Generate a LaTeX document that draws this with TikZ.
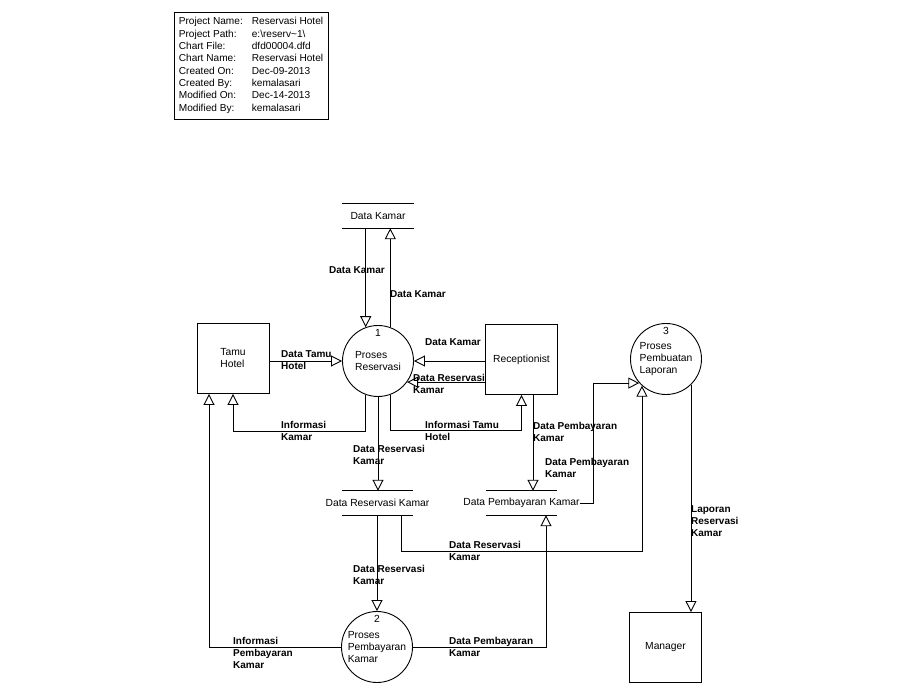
\documentclass[tikz,border=0pt]{standalone}
\usepackage{fontspec}
\setmainfont{Liberation Sans}
\usetikzlibrary{arrows.meta}

\newcommand{\dfdtext}{\fontsize{10.3}{12}\selectfont}
\newcommand{\dfdlabel}{\bfseries\fontsize{10}{12}\selectfont}

\begin{document}
\begin{tikzpicture}[
    x=1pt, y=-1pt,
    % === STYLES ===
    entity/.style={
        rectangle,
        draw,
        line width=0.9pt,
        minimum width=72pt,
        minimum height=70pt,
        align=left,
        font=\dfdtext
    },
    proc/.style={
        circle,
        draw,
        line width=0.9pt,
        minimum size=71pt,
        inner sep=0pt,
        align=left,
        font=\dfdtext
    },
    numlbl/.style={
        label distance=-12pt,
        inner sep=0pt,
        font=\dfdtext
    },
    flowline/.style={
        line width=0.9pt
    },
    store/.style={
        rectangle,
        minimum width=71pt,
        minimum height=24pt,
        inner sep=0pt,
        append after command={
            (\tikzlastnode.north west) edge[flowline] (\tikzlastnode.north east)
            (\tikzlastnode.south west) edge[flowline] (\tikzlastnode.south east)
        }
    },
    storetxt/.style={
        inner sep=0pt,
        font=\dfdtext
    },
    flow/.style={
        -{Triangle[open, length=11pt, width=11pt]},
        line width=0.9pt
    },
    flowlbl/.style={
        anchor=north west,
        inner sep=0pt,
        align=left,
        font=\dfdlabel
    },
    infobox/.style={
        rectangle,
        draw,
        line width=0.9pt,
        minimum width=154pt,
        minimum height=107pt,
        inner sep=0pt,
        font=\fontsize{10.1}{12.3}\selectfont
    }
]
\useasboundingbox (0,0) rectangle (900,700);

% === CHART INFO ===
\node[infobox] (info) at (251,65.5) {%
    \begin{tabular}{@{}p{73pt}@{}l@{}}
        Project Name: & Reservasi Hotel\\
        Project Path: & e:\textbackslash reserv\textasciitilde 1\textbackslash\\
        Chart File:   & dfd00004.dfd\\
        Chart Name:   & Reservasi Hotel\\
        Created On:   & Dec-09-2013\\
        Created By:   & kemalasari\\
        Modified On:  & Dec-14-2013\\
        Modified By:  & kemalasari
    \end{tabular}};

% === EXTERNAL ENTITIES ===
\node[entity] (tamu) at (233,358.5) {Tamu\\Hotel};
\node[entity] (recep) at (521.5,359.5) {Receptionist};
\node[entity] (mgr) at (665.5,647.5) {Manager};

% === PROCESSES ===
\node[proc, label={[numlbl]90:1}] (p1) at (378,361) {Proses\\Reservasi};
\node[proc, label={[numlbl]90:2}] (p2) at (377,647) {Proses\\Pembayaran\\Kamar};
\node[proc, label={[numlbl]90:3}] (p3) at (666,359) {Proses\\Pembuatan\\Laporan};

% === DATA STORES ===
\node[store, label={[storetxt, name=dkamartxt]center:Data Kamar}] (dkamar) at (378,216) {};
\node[store, label={[storetxt, name=dresvtxt]center:Data Reservasi Kamar}] (dresv) at (377.5,503) {};
\node[store, label={[storetxt, name=dbayartxt]center:Data Pembayaran Kamar}] (dbayar) at (521.5,503) {};

% === FLOWS ===

% Data Kamar <-> Proses Reservasi
\draw[flow] (p1.110 |- dkamar.south) -- (p1.110);
\draw[flow] (p1.70) -- (p1.70 |- dkamar.south);

% Tamu Hotel / Receptionist -> Proses Reservasi
\draw[flow] (tamu.east |- p1.west) -- (p1.west);
\draw[flow] (recep.west |- p1.east) -- (p1.east);
\draw[flow] (recep.west |- p1.-36) -- (p1.-36);

% Proses Reservasi -> Tamu Hotel, Receptionist, Data Reservasi Kamar
\draw[flow] (p1.250) |- ([yshift=-38pt]tamu.south) -- (tamu.south);
\draw[flow] (p1.290) |- ([yshift=-36pt]recep.south) -- (recep.south);
\draw[flow] (p1.south) -- (p1.south |- dresv.north);

% Receptionist -> Data Pembayaran Kamar
\draw[flow] ([xshift=11.5pt]recep.south) -- ([xshift=11.5pt]dbayar.north);

% Stores -> Proses Pembuatan Laporan
\draw[flow] (dbayartxt.east) -- ([xshift=36pt]dbayar.east) |- (p3.222);
\draw[flow] ([xshift=23.5pt]dresv.south) -- ([xshift=23.5pt, yshift=-36pt]dresv.south) -| (p3.228);

% Proses Pembuatan Laporan -> Manager
\draw[flow] (p3.-46) -- (p3.-46 |- mgr.north);

% Data Reservasi Kamar -> Proses Pembayaran
\draw[flow] (dresv.south -| p2.north) -- (p2.north);

% Proses Pembayaran -> Tamu Hotel, Data Pembayaran Kamar
\draw[flow] (p2.west) -| ([xshift=-24pt]tamu.south);
\draw[flow] (p2.east) -| ([xshift=24.5pt]dbayar.south);

% === FLOW LABELS ===
\node[flowlbl] (l_dk_in) at (329,266) {Data Kamar};
\node[flowlbl] (l_dk_out) at (390,290) {Data Kamar};
\node[flowlbl] (l_tamu) at (281,350) {Data Tamu\\Hotel};
\node[flowlbl] (l_rc_dk) at (425,338) {Data Kamar};
\node[flowlbl] (l_rc_dr) at (413,374) {Data Reservasi\\Kamar};
\node[flowlbl] (l_infk) at (281,421) {Informasi\\Kamar};
\node[flowlbl] (l_inft) at (425,421) {Informasi Tamu\\Hotel};
\node[flowlbl] (l_p1_dr) at (353,445) {Data Reservasi\\Kamar};
\node[flowlbl] (l_rc_db) at (533,422) {Data Pembayaran\\Kamar};
\node[flowlbl] (l_db_p3) at (545,458) {Data Pembayaran\\Kamar};
\node[flowlbl] (l_dr_p3) at (449,541) {Data Reservasi\\Kamar};
\node[flowlbl] (l_lap) at (691,505) {Laporan\\Reservasi\\Kamar};
\node[flowlbl] (l_dr_p2) at (353,565) {Data Reservasi\\Kamar};
\node[flowlbl] (l_infp) at (233,637) {Informasi\\Pembayaran\\Kamar};
\node[flowlbl] (l_p2_db) at (449,637) {Data Pembayaran\\Kamar};

\end{tikzpicture}
\end{document}
